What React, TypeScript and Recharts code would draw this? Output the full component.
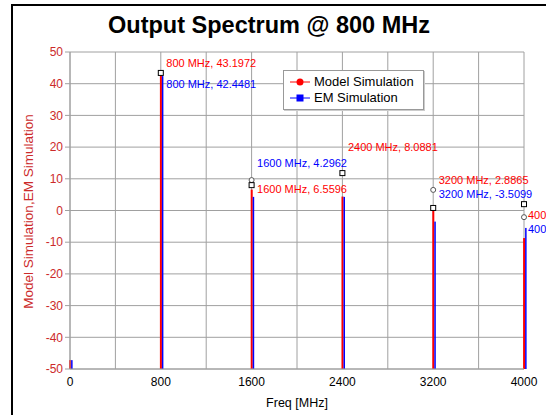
import React from 'react';
import { BarChart, Bar, XAxis, YAxis, CartesianGrid, ReferenceDot, Legend } from 'recharts';

// spectrum lines (dB)
const freqs = [0, 800, 1600, 2400, 3200, 4000];
const modelLevels = [-47.2, 43.2, 6.6, 4.4, 0.8, -8.7];
const emLevels = [-47.2, 42.4, 4.3, 4.3, -3.5, -5.5];
const floorLevel = -50;

const yTicks = [-50, -40, -30, -20, -10, 0, 10, 20, 30, 40, 50];
const xTicks = [0, 400, 800, 1200, 1600, 2000, 2400, 2800, 3200, 3600, 4000];

// marker readouts
const labelFreqs = [800, 800, 1600, 1600, 2400, 3200, 3200, 4000, 4000];
const labelLevels = [46.5, 39.9, 15.0, 6.8, 20.0, 9.6, 5.2, -1.4, -5.8];
const labelTexts = [
  '800 MHz, 43.1972',
  '800 MHz, 42.4481',
  '1600 MHz, 4.2962',
  '1600 MHz, 6.5596',
  '2400 MHz, 8.0881',
  '3200 MHz, 2.8865',
  '3200 MHz, -3.5099',
  '400',
  '400',
];
const labelSeries = ['model', 'em', 'em', 'model', 'model', 'model', 'em', 'model', 'em'];

const markerFreqs = [800, 1600, 1600, 2400, 3200, 3200, 4000, 4000];
const markerLevels = [43.4, 9.6, 8.0, 11.8, 6.5, 0.8, 2.0, -2.1];
const markerKinds = ['square', 'circle', 'square', 'square', 'circle', 'square', 'square', 'circle'];

const RED = '#ff0000';
const BLUE = '#0000ff';
const AXIS_RED = '#cc2a2a';
const FONT = '"Liberation Sans", Arial, sans-serif';

const rows = freqs.map((f, i) => ({
  freq: f,
  model: [floorLevel, modelLevels[i]],
  em: [floorLevel, emLevels[i]],
}));

const LineBar = (w: number) => (p: any) => (
  <rect x={p.x + 1.5} y={p.y} width={w} height={Math.max(p.height, 0)} fill={p.fill} />
);

const LegendBox = () => (
  <div
    style={{
      border: '1px solid #999',
      boxShadow: '1px 1px 0 #ccc',
      background: '#fff',
      padding: '3px 0 3px 5px',
      width: 134,
      height: 32,
      fontFamily: FONT,
      fontSize: 13,
      lineHeight: '16px',
      color: '#000',
    }}
  >
    <div style={{ display: 'flex', alignItems: 'center' }}>
      <svg width={22} height={12}>
        <line x1={1} y1={6} x2={21} y2={6} stroke={RED} strokeWidth={1} />
        <circle cx={11} cy={6} r={3.5} fill={RED} />
      </svg>
      <span style={{ marginLeft: 3 }}>Model Simulation</span>
    </div>
    <div style={{ display: 'flex', alignItems: 'center' }}>
      <svg width={22} height={12}>
        <line x1={1} y1={6} x2={21} y2={6} stroke={BLUE} strokeWidth={1} />
        <rect x={7.5} y={2.5} width={7} height={7} fill={BLUE} />
      </svg>
      <span style={{ marginLeft: 3 }}>EM Simulation</span>
    </div>
  </div>
);

export default function App() {
  return (
    <div
      style={{
        position: 'absolute',
        left: 0,
        top: 0,
        width: 546,
        height: 415,
        overflow: 'hidden',
        background: '#fff',
      }}
    >
      <div
        style={{
          position: 'absolute',
          left: 11,
          top: 4,
          width: 600,
          height: 500,
          borderLeft: '2px solid #000',
          borderTop: '2px solid #000',
        }}
      />
      <div
        style={{
          position: 'absolute',
          left: 0,
          top: 12,
          width: 538,
          textAlign: 'center',
          fontFamily: FONT,
          fontWeight: 'bold',
          fontSize: 23.5,
          color: '#000',
        }}
      >
        Output Spectrum @ 800 MHz
      </div>
      <div style={{ position: 'absolute', left: 0, top: 0 }}>
        <BarChart
          width={546}
          height={415}
          data={rows}
          margin={{ top: 52, right: 22, left: 12, bottom: 0 }}
          barSize={2}
          barGap={0}
        >
          <CartesianGrid stroke="#a0a0a0" strokeWidth={1} />
          <XAxis
            dataKey="freq"
            type="number"
            domain={[0, 4000]}
            ticks={xTicks}
            interval={0}
            tickFormatter={(v: number) => (v % 800 === 0 ? String(v) : '')}
            tickLine={false}
            axisLine={{ stroke: '#a0a0a0' }}
            height={46}
            tick={{ fill: '#000', fontSize: 12, fontFamily: FONT }}
            label={(props: any) => {
              const vb = props.viewBox;
              return (
                <text
                  x={vb.x + vb.width / 2}
                  y={vb.y + 38}
                  textAnchor="middle"
                  fill="#000"
                  fontSize={12.5}
                  fontFamily={FONT}
                >
                  Freq [MHz]
                </text>
              );
            }}
          />
          <YAxis
            type="number"
            domain={[-50, 50]}
            ticks={yTicks}
            interval={0}
            width={58}
            tickSize={5}
            tickMargin={2}
            tickLine={{ stroke: '#a0a0a0' }}
            axisLine={{ stroke: '#a0a0a0' }}
            tick={{ fill: AXIS_RED, fontSize: 12, fontFamily: FONT }}
            label={(props: any) => {
              const vb = props.viewBox;
              const cx = vb.x + 16;
              const cy = vb.y + vb.height / 2 + 1;
              return (
                <text
                  x={cx}
                  y={cy}
                  transform={`rotate(-90 ${cx} ${cy})`}
                  textAnchor="middle"
                  dominantBaseline="central"
                  fill={AXIS_RED}
                  fontSize={13.5}
                  fontFamily={FONT}
                >
                  Model Simulation,EM Simulation
                </text>
              );
            }}
          />
          <Legend
            layout="vertical"
            align="center"
            verticalAlign="middle"
            content={() => <LegendBox />}
            wrapperStyle={{ left: 283, top: 70, width: 141 }}
          />
          <Bar dataKey="model" fill={RED} isAnimationActive={false} shape={LineBar(2)} />
          <Bar dataKey="em" fill={BLUE} isAnimationActive={false} shape={LineBar(1.5)} />
          {markerFreqs.map((f, i) => (
            <ReferenceDot
              key={'m' + i}
              x={f}
              y={markerLevels[i]}
              r={3}
              ifOverflow="visible"
              shape={(p: any) =>
                markerKinds[i] === 'square' ? (
                  <rect x={p.cx - 2.5} y={p.cy - 2.5} width={5} height={5} fill="#fff" stroke="#000" strokeWidth={1} />
                ) : (
                  <circle cx={p.cx} cy={p.cy} r={2.5} fill="#fff" stroke="#555" strokeWidth={1} />
                )
              }
            />
          ))}
          {labelFreqs.map((f, i) => (
            <ReferenceDot
              key={'l' + i}
              x={f}
              y={labelLevels[i]}
              r={1}
              ifOverflow="visible"
              shape={(p: any) => (
                <text
                  x={p.cx + (f === 4000 ? 4 : 5.5)}
                  y={p.cy}
                  dominantBaseline="central"
                  fill={labelSeries[i] === 'model' ? RED : BLUE}
                  fontSize={11}
                  fontFamily={FONT}
                >
                  {labelTexts[i]}
                </text>
              )}
            />
          ))}
        </BarChart>
      </div>
    </div>
  );
}
